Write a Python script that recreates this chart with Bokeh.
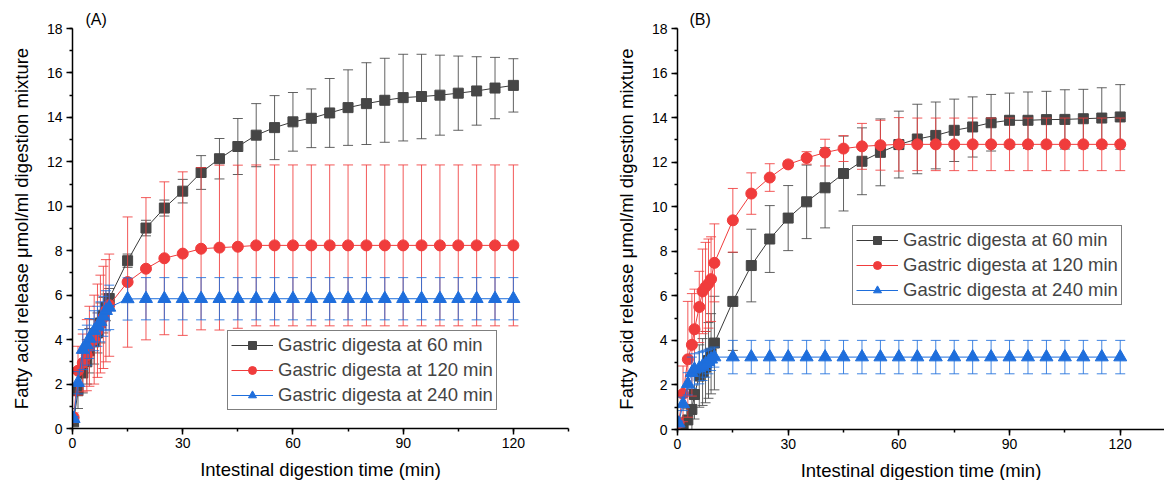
from bokeh.plotting import figure
from bokeh.layouts import row
from bokeh.models import (ColumnDataSource, SingleIntervalTicker, Range1d,
                          Legend, LegendItem, Title)
from bokeh.embed import file_html
from bokeh.resources import INLINE

# ---------------- data ----------------
T_EARLY = [0.3, 1.5, 2.8, 3.9, 4.6, 5.9, 6.8, 7.6, 8.4, 9.1, 10]
T_LATE = [15, 20, 25, 30, 35, 40, 45, 50, 55, 60, 65, 70, 75, 80, 85, 90,
          95, 100, 105, 110, 115, 120]
time_min = T_EARLY + T_LATE

series_labels = ["Gastric digesta at 60 min", "Gastric digesta at 120 min",
                 "Gastric digesta at 240 min"]

# Panel (A)
a_60_mean = [0.3, 1.7, 2.5, 3.0, 3.5, 3.9, 4.3, 4.75, 5.1, 5.45, 5.85,
             7.55, 9.02, 9.92, 10.68, 11.52, 12.14, 12.69, 13.2, 13.54, 13.8, 13.96,
             14.2, 14.44, 14.62, 14.77, 14.89, 14.94, 15.0, 15.09, 15.19, 15.32, 15.44]
a_60_sd = [0.15, 0.8, 0.9, 1.0, 1.0, 1.0, 0.9, 0.9, 0.8, 0.6, 0.45,
           0.3, 0.35, 0.36, 0.53, 0.76, 0.91, 1.26, 1.42, 1.44, 1.32, 1.32,
           1.55, 1.7, 1.84, 1.89, 1.95, 1.9, 1.8, 1.67, 1.54, 1.38, 1.2]
a_120_mean = [0.5, 2.6, 2.95, 3.3, 3.7, 4.0, 4.4, 4.7, 5.0, 5.3, 5.55,
              6.59, 7.19, 7.66, 7.87, 8.09, 8.14, 8.18, 8.24, 8.24, 8.24, 8.24,
              8.24, 8.24, 8.24, 8.24, 8.24, 8.24, 8.24, 8.24, 8.24, 8.24, 8.24]
a_120_sd = [0.2, 1.1, 1.3, 1.6, 1.8, 2.0, 2.1, 2.2, 2.3, 2.3, 2.3,
            2.93, 3.2, 3.44, 3.68, 3.65, 3.71, 3.67, 3.62, 3.62, 3.62, 3.62,
            3.62, 3.62, 3.62, 3.62, 3.62, 3.62, 3.62, 3.62, 3.62, 3.62, 3.62]
a_240_mean = [0.44, 2.06, 3.55, 3.75, 4.05, 4.4, 4.6, 4.8, 5.05, 5.3, 5.45,
              5.83, 5.84, 5.84, 5.84, 5.84, 5.84, 5.84, 5.84, 5.84, 5.84, 5.84,
              5.84, 5.84, 5.84, 5.84, 5.84, 5.84, 5.84, 5.84, 5.84, 5.84, 5.84]
a_240_sd = [0.1, 0.5, 0.9, 0.9, 0.9, 0.9, 0.9, 0.9, 0.9, 0.9, 1.0,
            0.95, 0.95, 0.95, 0.95, 0.95, 0.95, 0.95, 0.95, 0.95, 0.95, 0.95,
            0.95, 0.95, 0.95, 0.95, 0.95, 0.95, 0.95, 0.95, 0.95, 0.95, 0.95]

# Panel (B)
b_60_mean = [0.1, 0.25, 0.43, 0.9, 1.57, 2.4, 2.58, 2.8, 3.1, 3.4, 3.88,
             5.75, 7.36, 8.55, 9.49, 10.22, 10.85, 11.49, 12.04, 12.44, 12.79, 13.04,
             13.2, 13.43, 13.58, 13.77, 13.88, 13.88, 13.91, 13.92, 13.95, 13.98, 14.03]
b_60_sd = [0.1, 0.3, 0.5, 0.9, 1.1, 1.4, 1.5, 1.6, 1.7, 1.8, 2.1,
           2.2, 1.63, 1.5, 1.46, 1.65, 1.8, 1.68, 1.5, 1.5, 1.5, 1.56,
           1.5, 1.4, 1.35, 1.27, 1.22, 1.27, 1.27, 1.33, 1.32, 1.36, 1.45]
b_120_mean = [0.3, 1.6, 3.15, 3.8, 4.5, 5.5, 6.2, 6.4, 6.55, 6.75, 7.48,
              9.39, 10.59, 11.31, 11.9, 12.19, 12.43, 12.61, 12.71, 12.76, 12.8, 12.8,
              12.8, 12.8, 12.8, 12.8, 12.8, 12.8, 12.8, 12.8, 12.8, 12.8, 12.8]
b_120_sd = [0.2, 1.25, 2.6, 2.3, 1.8, 1.6, 1.9, 2.0, 2.0, 1.9, 1.75,
            1.43, 0.93, 0.62, 0.15, 0.28, 0.6, 0.58, 1.03, 1.12, 1.2, 1.18,
            1.18, 1.18, 1.18, 1.18, 1.18, 1.18, 1.18, 1.18, 1.18, 1.18, 1.18]
b_240_mean = [0.28, 1.15, 2.05, 2.55, 2.7, 2.75, 2.85, 2.95, 3.05, 3.15, 3.25,
              3.25, 3.25, 3.25, 3.25, 3.25, 3.25, 3.25, 3.25, 3.25, 3.25, 3.25,
              3.25, 3.25, 3.25, 3.25, 3.25, 3.25, 3.25, 3.25, 3.25, 3.25, 3.25]
b_240_sd = [0.1, 0.3, 0.5, 0.7, 0.7, 0.7, 0.65, 0.6, 0.55, 0.5, 0.45,
            0.75, 0.75, 0.75, 0.75, 0.75, 0.75, 0.75, 0.75, 0.75, 0.75, 0.75,
            0.75, 0.75, 0.75, 0.75, 0.75, 0.75, 0.75, 0.75, 0.75, 0.75, 0.75]

x_ticks_interval = 30
y_ticks_interval = 2
x_label = "Intestinal digestion time (min)"
y_label = "Fatty acid release \u03bcmol/ml digestion mixture"

# ---------------- styling ----------------
FONT = "Liberation Sans"
STYLES = [
    dict(color="#464646", line="#3a3a3a", marker="square", size=10),
    dict(color="#F03C3C", line="#F03C3C", marker="circle", size=11),
    dict(color="#1E6EDC", line="#1E6EDC", marker="triangle", size=13),
]


def make_panel(tag, means, sds, left, frame_w, x_end, top, frame_h, right_border,
               legend_loc, tag_offset):
    p = figure(frame_width=frame_w, frame_height=frame_h,
               x_range=Range1d(0, x_end), y_range=Range1d(0, 18),
               output_backend="svg", toolbar_location=None,
               min_border_left=left, min_border_right=right_border,
               min_border_top=top, min_border_bottom=10)
    p.title = Title(text=tag, align="left", offset=tag_offset, standoff=1,
                    text_font=FONT, text_font_size="16px",
                    text_font_style="normal", text_color="black")
    p.outline_line_color = None
    p.xgrid.visible = False
    p.ygrid.visible = False
    p.background_fill_color = "white"

    p.xaxis.ticker = SingleIntervalTicker(interval=x_ticks_interval, num_minor_ticks=2)
    p.yaxis.ticker = SingleIntervalTicker(interval=y_ticks_interval, num_minor_ticks=2)
    for ax in (p.xaxis[0], p.yaxis[0]):
        ax.axis_line_width = 1.5
        ax.axis_line_color = "black"
        ax.major_tick_in = 0
        ax.major_tick_out = 6
        ax.minor_tick_in = 0
        ax.minor_tick_out = 3
        ax.major_tick_line_width = 1.5
        ax.minor_tick_line_width = 1.5
        ax.major_label_text_font = FONT
        ax.major_label_text_font_size = "14px"
        ax.major_label_text_color = "black"
        ax.axis_label_text_font = FONT
        ax.axis_label_text_font_size = "18.5px"
        ax.axis_label_text_font_style = "normal"
        ax.axis_label_text_color = "black"
    p.xaxis.axis_label = x_label
    p.yaxis.axis_label = y_label
    p.xaxis.major_label_standoff = 3
    p.xaxis.axis_label_standoff = 8
    p.yaxis.major_label_standoff = 4
    p.yaxis.axis_label_standoff = 12

    items = []
    for label, mean, sd, st in zip(series_labels, means, sds, STYLES):
        src = ColumnDataSource(dict(
            x=time_min, y=mean,
            lo=[m - s for m, s in zip(mean, sd)],
            hi=[m + s for m, s in zip(mean, sd)]))
        p.segment(x0="x", y0="lo", x1="x", y1="hi", source=src,
                  line_color=st["color"], line_width=1, line_alpha=0.85)
        p.scatter(x="x", y="hi", source=src, marker="dash", size=10,
                  line_color=st["color"], line_width=1, line_alpha=0.85)
        p.scatter(x="x", y="lo", source=src, marker="dash", size=10,
                  line_color=st["color"], line_width=1, line_alpha=0.85)
        lr = p.line(x="x", y="y", source=src, line_color=st["line"], line_width=1)
        mr = p.scatter(x="x", y="y", source=src, marker=st["marker"], size=st["size"],
                       fill_color=st["color"], line_color=st["color"], line_width=1)
        items.append(LegendItem(label=label, renderers=[lr, mr]))

    leg = Legend(items=items, location=legend_loc, border_line_color="black",
                 border_line_width=1, background_fill_alpha=1.0,
                 padding=3, spacing=3, margin=0, glyph_width=42, glyph_height=20,
                 label_height=20, label_standoff=5,
                 label_text_font=FONT, label_text_font_size="18.5px")
    p.add_layout(leg)
    return p


pA = make_panel("(A)", [a_60_mean, a_120_mean, a_240_mean],
                [a_60_sd, a_120_sd, a_240_sd],
                left=72, frame_w=496, x_end=135, top=28, frame_h=400, right_border=44,
                legend_loc=(155, 18), tag_offset=13)
pB = make_panel("(B)", [b_60_mean, b_120_mean, b_240_mean],
                [b_60_sd, b_120_sd, b_240_sd],
                left=64, frame_w=487, x_end=132, top=25, frame_h=401, right_border=0,
                legend_loc=(175, 124), tag_offset=12)

layout = row(pA, pB)
open("out.html", "w").write(file_html(layout, INLINE))
